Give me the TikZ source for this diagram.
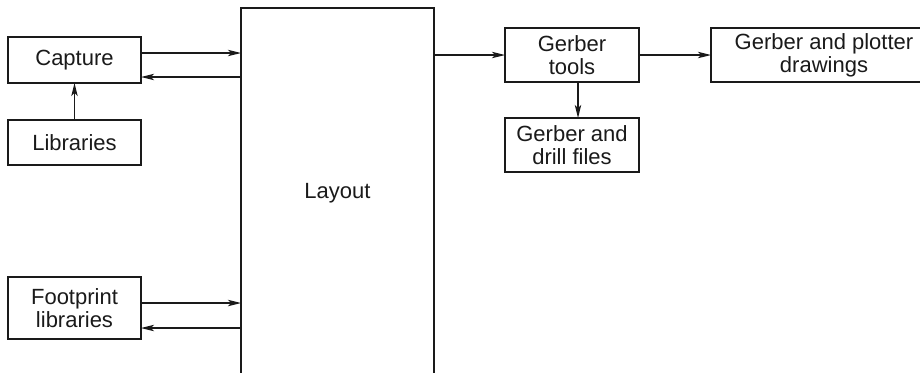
\documentclass[tikz,border=0pt]{standalone}
\usepackage{fontspec}
\setmainfont{Liberation Sans}
\usetikzlibrary{arrows.meta,positioning}
\definecolor{ink}{HTML}{1A1A1A}
\tikzset{
  every node/.style={font=\fontsize{11pt}{11.5pt}\selectfont, text=ink},
  box/.style={draw=ink, line width=0.7pt, fill=white, align=center, outer sep=0pt, inner sep=1pt, minimum width=66.5pt, minimum height=23pt},
  toolbox/.style={box, minimum width=67pt, minimum height=27pt},
  widebox/.style={box, minimum width=113pt, minimum height=27pt},
  layoutbox/.style={box, minimum width=96.5pt, minimum height=185pt},
  arrow/.style={-{Stealth[length=6.5pt,width=3.2pt,inset=1.6pt]}, line width=0.7pt, draw=ink},
}
\begin{document}
\begin{tikzpicture}
\useasboundingbox (0,0) rectangle (460pt,-186pt);
\clip (0,0) rectangle (460pt,-186pt);
\node[box] (capture) at (37.25pt,-30pt) {Capture};
\node[box, below=18.5pt of capture, minimum height=22.5pt] (libs) {Libraries};
\node[box, below=56pt of libs, minimum height=31pt] (footprint) {Footprint\\libraries};
\node[layoutbox, anchor=north west] (layout) at (120.5pt,-4pt) {Layout};
\node[toolbox, anchor=north west] (tools) at (252.5pt,-14pt) {Gerber\\tools};
\node[widebox, right=36pt of tools] (plotter) {Gerber and plotter\\drawings};
\node[toolbox, below=18pt of tools] (drill) {Gerber and\\drill files};
\draw[arrow] (libs) -- (capture);
\draw[arrow] ([yshift=3.5pt]capture.east) -- ([yshift=3.5pt]capture.east -| layout.west);
\draw[arrow] ([yshift=-8.5pt]capture.east -| layout.west) -- ([yshift=-8.5pt]capture.east);
\draw[arrow] ([yshift=2.5pt]footprint.east) -- ([yshift=2.5pt]footprint.east -| layout.west);
\draw[arrow] ([yshift=-10pt]footprint.east -| layout.west) -- ([yshift=-10pt]footprint.east);
\draw[arrow] (tools.west -| layout.east) -- (tools.west);
\draw[arrow] (tools) -- (plotter);
\draw[arrow] ([xshift=3pt]tools.south) -- ([xshift=3pt]drill.north);
\end{tikzpicture}
\end{document}
